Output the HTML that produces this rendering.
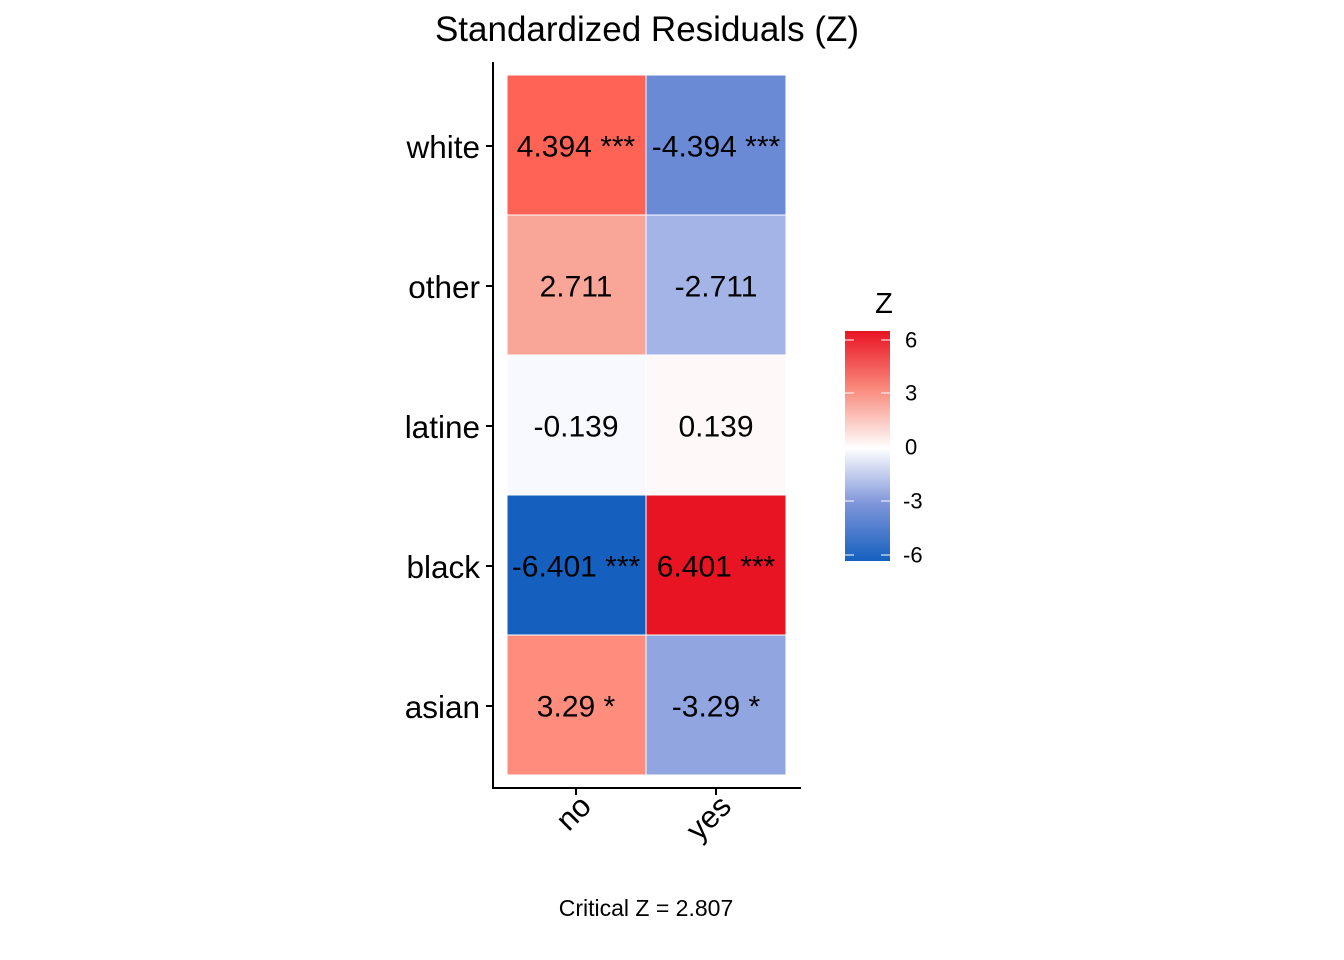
<!DOCTYPE html>
<html><head><style>body{margin:0;background:#fff}svg{display:block}</style></head><body>
<svg width="1344" height="960" xmlns="http://www.w3.org/2000/svg" font-family="Liberation Sans, Arial, sans-serif">
<defs><linearGradient id="g" x1="0" y1="1" x2="0" y2="0">
<stop offset="0" stop-color="#1560BF"/><stop offset="0.25" stop-color="#7F95DA"/><stop offset="0.49" stop-color="#FFFFFF"/><stop offset="0.75" stop-color="#F9897B"/><stop offset="1" stop-color="#E81424"/></linearGradient></defs>
<text x="647" y="41" font-size="35" text-anchor="middle">Standardized Residuals (Z)</text>
<g stroke="#fff" stroke-width="1">
<rect x="507" y="75" width="139" height="140" fill="#FF6355"/><rect x="646" y="75" width="140" height="140" fill="#6A8AD6"/>
<rect x="507" y="215" width="139" height="140" fill="#F9A597"/><rect x="646" y="215" width="140" height="140" fill="#A4B4E7"/>
<rect x="507" y="355" width="139" height="140" fill="#F7F9FF"/><rect x="646" y="355" width="140" height="140" fill="#FFF8F8"/>
<rect x="507" y="495" width="139" height="140" fill="#1560BF"/><rect x="646" y="495" width="140" height="140" fill="#E81424"/>
<rect x="507" y="635" width="139" height="140" fill="#FF8D7E"/><rect x="646" y="635" width="140" height="140" fill="#91A5E0"/>
</g>
<g font-size="30" text-anchor="middle" dominant-baseline="central">
<text x="576" y="147">4.394 ***</text><text x="716" y="147">-4.394 ***</text>
<text x="576" y="287">2.711</text><text x="716" y="287">-2.711</text>
<text x="576" y="427">-0.139</text><text x="716" y="427">0.139</text>
<text x="576" y="567">-6.401 ***</text><text x="716" y="567">6.401 ***</text>
<text x="576" y="707">3.29 *</text><text x="716" y="707">-3.29 *</text>
</g>
<g stroke="#000" stroke-width="2" fill="none">
<path d="M493 62V788H801"/>
<path d="M486 146h7M486 286h7M486 426h7M486 566h7M486 706h7M576 788v7M716 788v7"/>
</g>
<g font-size="31.5" text-anchor="end" dominant-baseline="central">
<text x="480" y="147">white</text><text x="480" y="287">other</text><text x="480" y="427">latine</text><text x="480" y="567">black</text><text x="480" y="707">asian</text>
</g>
<g font-size="31" text-anchor="end">
<text transform="translate(593,808) rotate(-45)">no</text>
<text transform="translate(733,808) rotate(-45)">yes</text>
</g>
<text x="646" y="916" font-size="23" text-anchor="middle">Critical Z = 2.807</text>
<text x="884" y="313" font-size="29" text-anchor="middle">Z</text>
<rect x="845" y="331" width="45" height="230" fill="url(#g)"/>
<g stroke="#fff" stroke-width="1">
<path d="M845 340h9M881 340h9M845 393h9M881 393h9M845 447h9M881 447h9M845 501h9M881 501h9M845 555h9M881 555h9"/>
</g>
<g font-size="22" dominant-baseline="central">
<text x="905" y="340">6</text><text x="905" y="393">3</text><text x="905" y="447">0</text><text x="903" y="501">-3</text><text x="903" y="555">-6</text>
</g>
</svg>
</body></html>
